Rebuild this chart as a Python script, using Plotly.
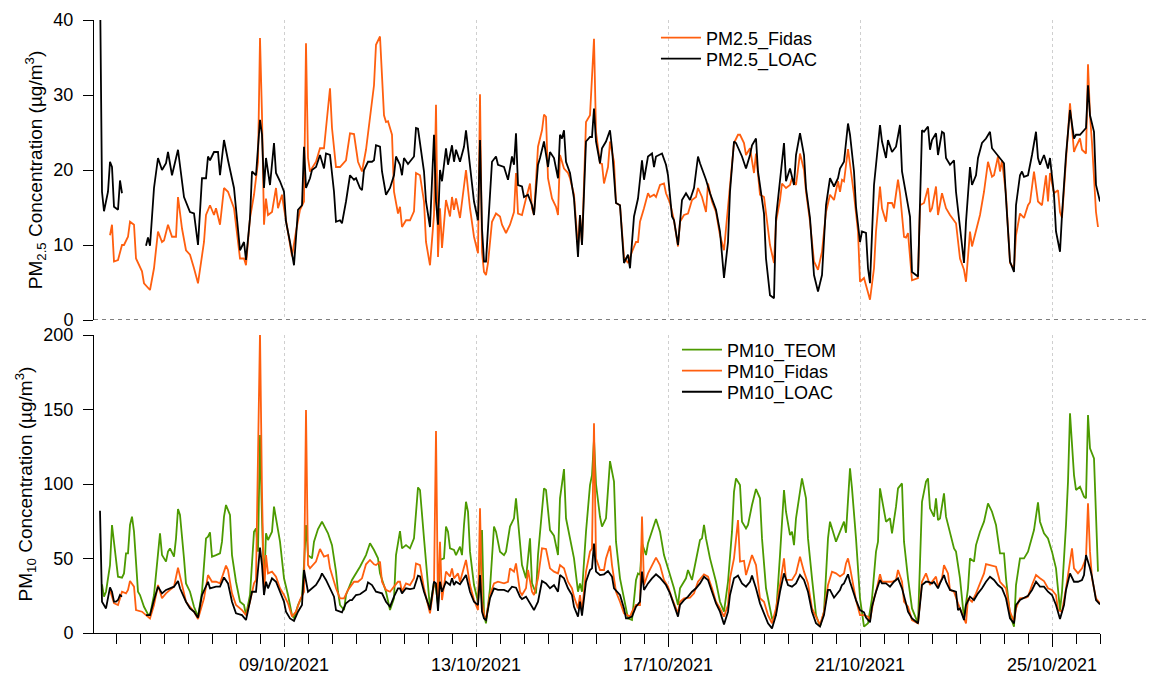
import pandas as pd
import plotly.graph_objects as go

BASE = pd.Timestamp("2021-10-05 00:00")

# (hour offset from 05/10/2021 00:00, value)
pm25_fidas = [(9,11.3),(10,12.7),(11,7.8),(13,8),(15,10),(16,10),(18,11.1),(19,13.1),(21,12.7),(22,8.2),(25,6.5),(26,4.9),(29,4),(31,6.9),(33,11.8),(35,10.4),(36,10.6),(38,12.7),(40,11.1),(42,11.1),(43,16.4),(45,12.2),(47,9.3),(49,8.7),(51,6.9),(53,4.9),(56,10.4),(57,14),(59,15.3),(61,14),(62,14.9),(64,12.7),(66,17.6),(68,17.1),(71,14.9),(74,8.2),(76,8.2),(77,7.3),(79,13.6),(81,16.7),(83,21.1),(84,37.6),(85,27.3),(86,12.7),(87,16.2),(88,14),(90,14.4),(92,17.6),(93,14.9),(95,16.7),(96,14.9),(98,11.8),(100,8.5),(102,11.8),(104,14.7),(106,15.8),(107,36.9),(108,21.6),(109,19.8),(112,21.1),(114,22.9),(116,22.9),(119,30.9),(120,25.6),(122,20.4),(124,20.4),(127,21.3),(129,24.9),(131,24.8),(133,21.1),(135,19.8),(137,22.7),(139,27.3),(141,31.3),(142,36.7),(144,37.8),(146,27.3),(147,26.4),(148,26.5),(150,24.7),(151,17.1),(153,14.2),(154,15.1),(155,12.4),(157,13.3),(159,13.3),(161,14.5),(162,19.6),(164,19.3),(166,15.8),(167,10.4),(169,7.3),(171,14),(172,28.7),(173,8.4),(174,14.9),(175,9.6),(177,16),(179,13.8),(180,16.4),(181,14.7),(182,16.2),(184,13.6),(187,20),(189,14.9),(191,11.1),(193,8.9),(194,30.1),(195,9.1),(196,6.4),(197,6),(198,7.6),(200,13.1),(202,14.2),(204,13.8),(205,12.7),(207,11.6),(209,12.7),(211,14.4),(212,19.6),(213,14.2),(215,14),(217,16.2),(219,18.2),(220,14.9),(221,14),(223,23.1),(225,25.3),(226,27.4),(227,27.1),(228,18.9),(230,16.2),(232,15.1),(233,14),(234,22),(236,20.2),(238,19.6),(239,18.9),(241,16.7),(243,9.6),(244,14),(245,10),(247,26.4),(249,27.3),(251,37.5),(252,25.1),(254,20.9),(255,20.8),(256,18.2),(258,20.4),(259,23.8),(261,21.1),(262,15.6),(264,15.3),(266,8.4),(268,7.6),(270,9.1),(272,10.4),(273,10.4),(274,13.1),(276,14.9),(278,16.9),(279,16.4),(281,16.7),(282,16.4),(284,18),(286,18.2),(287,16.9),(289,15.6),(291,13.3),(293,9.8),(294,13.1),(296,14),(298,14.2),(300,16),(302,16.4),(303,17.6),(305,16.4),(307,14.4),(308,18.2),(310,15.8),(312,14.4),(314,11.3),(316,9.3),(317,12.2),(319,18),(321,23.6),(323,24.7),(324,24.7),(326,23.6),(327,22),(329,22.9),(331,19.6),(332,22.2),(334,16.7),(336,16.4),(337,14),(339,10),(341,7.6),(342,13.1),(344,16),(345,18.2),(347,17.6),(349,18),(350,18.9),(352,18),(354,22.2),(356,20),(357,17.1),(359,13.1),(361,7.8),(363,6.7),(365,9.1),(367,14.4),(369,16.7),(371,16),(373,18.5),(374,17.1),(375,18.7),(376,18.5),(378,22.8),(381,16.7),(383,11.8),(384,5.1),(386,5.6),(387,4.7),(389,2.7),(391,6.9),(392,11.8),(394,17.8),(395,14.9),(397,13.1),(398,15.6),(400,15.6),(401,14.9),(403,18.7),(404,16.9),(406,11.1),(407,11),(408,11.6),(410,5.3),(413,5.6),(414,15.3),(416,15.6),(418,17.6),(419,14.4),(420,14.9),(422,17.8),(423,14),(425,16.9),(427,14.9),(429,14),(432,12.9),(434,8.2),(436,6.7),(437,5.1),(439,11.8),(440,9.8),(442,11.8),(444,14),(446,17.1),(448,21.1),(450,19.1),(451,19.3),(453,21.8),(454,19.8),(455,21.3),(457,16.7),(459,7.6),(461,6.9),(462,11.3),(464,14.2),(466,13.6),(468,15.3),(469,15.7),(471,19.8),(473,15.8),(475,15.3),(477,19.3),(478,15.8),(479,19.6),(481,16.9),(483,17.3),(484,14.4),(485,13.6),(487,22),(489,28.9),(491,22.4),(492,23.1),(494,24.2),(495,22.7),(497,22.2),(498,34.1),(499,27.3),(500,23.6),(502,14.4),(503,12.4)]

pm25_loac = [(4,45),(5,17.1),(6,14.5),(8,17.1),(9,21.1),(10,20.4),(11,15.1),(13,14.7),(14,18.6),(15,16.9),(21,None),(27,9.9),(28,11),(29,9.9),(31,17.6),(33,21.6),(35,20),(37,20.9),(38,22.4),(40,19.3),(43,22.7),(46,16.4),(49,14.4),(51,14.2),(53,10),(55,18.9),(57,18.9),(58,21.8),(59,21.3),(61,22.4),(63,22.4),(64,19.3),(66,24),(68,21.3),(71,17.6),(74,9.3),(76,10.4),(77,8),(79,13.6),(80,19.8),(82,19.3),(84,26.7),(85,24.7),(86,17.6),(87,21.6),(89,18),(91,23.6),(92,19.6),(94,18.5),(96,17.1),(97,13.1),(99,10.4),(101,7.3),(103,14.7),(105,15.3),(106,23.1),(107,17.6),(109,18.9),(110,20),(112,20.4),(114,22),(116,20.2),(117,22.2),(119,22),(121,17.1),(122,13.1),(124,13.3),(125,12.9),(127,15.8),(129,19.3),(131,18.7),(132,18.9),(134,17.6),(135,17.3),(136,20),(138,21.1),(140,21.1),(141,21.3),(142,23.3),(144,23.1),(145,19.8),(147,16.7),(149,17.6),(151,19.3),(152,21.8),(154,20.7),(155,19.3),(156,21.6),(158,20.8),(161,21.8),(162,25.6),(163,25.5),(166,19.8),(167,15.8),(169,12.4),(171,24.7),(172,15.8),(173,12.7),(174,20),(175,18.5),(177,22.9),(178,20.7),(180,23.3),(181,21.1),(182,22.7),(184,21.1),(186,23.1),(187,25.3),(189,20.2),(191,15.8),(193,13.3),(194,24),(195,12.2),(196,7.8),(197,7.8),(200,21.1),(202,21.8),(203,20.7),(206,20.4),(208,18.7),(210,21.8),(211,20.7),(212,24.9),(213,18),(215,17.8),(216,16.4),(218,16.7),(220,15.3),(221,14),(223,20.7),(224,21.6),(226,23.8),(228,20.4),(229,22.4),(231,21.6),(233,18.9),(234,24.7),(235,24.2),(236,25.3),(237,21.1),(239,19.6),(241,16.2),(243,8.4),(244,14),(245,10),(247,23.8),(249,24.4),(250,24.4),(251,28.2),(252,23.8),(254,20.9),(255,22.9),(257,23.8),(259,25.3),(260,22.9),(262,15.6),(264,15.3),(266,7.6),(268,8.7),(269,6.9),(271,13.8),(273,16.2),(274,18.7),(275,21.3),(276,18.7),(278,21.8),(280,22.2),(281,20.4),(282,21.8),(285,22.2),(287,20.7),(288,19.3),(290,13.8),(291,13.3),(293,10),(294,13.6),(295,16),(297,16.9),(299,16),(301,17.6),(303,21.8),(304,20.9),(306,19.6),(307,18.7),(309,16.9),(312,14.7),(314,11.8),(316,5.6),(318,10.4),(319,17.1),(321,23.8),(322,23.6),(325,21.8),(327,20.2),(329,22),(330,23.3),(332,24.2),(333,19.8),(336,14.2),(337,8.2),(339,3.3),(341,2.9),(342,13.6),(344,18.5),(346,23.6),(347,18.5),(349,20.2),(351,18),(352,22),(354,24.9),(356,22),(357,17.6),(359,13.6),(361,6),(363,3.8),(365,6),(367,15.3),(369,18.9),(371,17.8),(373,18.9),(374,20.2),(376,21.1),(378,26.2),(379,24.7),(381,19.8),(382,15.1),(384,10.4),(385,11.8),(387,11.6),(388,6.9),(389,4.9),(391,18),(392,20.4),(394,26),(395,23.8),(397,21.6),(398,24),(400,22.4),(402,23.1),(404,26),(405,19.8),(407,16.7),(409,13.8),(410,6.4),(413,5.8),(415,25.3),(416,25.1),(418,25.8),(419,22.7),(420,24),(422,24.9),(423,22),(425,25.1),(426,24.9),(427,21.6),(429,20.7),(431,21.3),(432,17.1),(434,12.2),(436,7.6),(437,13.1),(439,20.4),(440,18),(442,19.3),(443,21.6),(445,23.6),(447,24.2),(449,25.1),(450,22.9),(452,22.2),(454,21.6),(456,20.9),(457,16.2),(459,7.8),(461,6.4),(462,15.3),(464,19.3),(465,19.8),(466,19.1),(468,19.3),(470,22),(472,25.1),(473,21.6),(474,20.7),(476,22),(478,20.2),(479,21.6),(481,16.7),(482,11.8),(484,9.1),(485,14),(487,22),(489,28),(491,24.2),(492,24.7),(494,24.7),(497,25.6),(498,31.3),(499,27.3),(501,25.1),(502,18),(504,15.8)]

pm10_teom = [(5,32.7),(6,24.4),(7,27.7),(9,45.6),(10,72.5),(12,50.1),(13,37.8),(15,37.1),(16,40),(17,53.5),(18,53.5),(19,72.5),(20,78.1),(21,68),(22,47.9),(23,27.7),(24,25.5),(26,17.6),(28,12.5),(29,12),(31,25.5),(33,52.3),(34,66.9),(35,52.3),(37,47.9),(38,54.6),(39,56.8),(41,51.2),(42,63.5),(43,83.2),(44,79.2),(46,50.1),(47,33.3),(49,27.7),(51,17.6),(53,11),(55,27.7),(57,63.5),(58,64.6),(59,67.5),(60,51.2),(62,52.3),(64,53.5),(65,61.3),(66,78.1),(67,85.9),(69,79.2),(70,52.3),(72,34.4),(74,21),(76,18.8),(77,12),(79,25.5),(81,68),(82,70.2),(83,54.6),(84,132.9),(85,77),(86,30),(87,66.9),(88,62.4),(90,68),(91,84.8),(92,77),(94,61.3),(96,36.7),(98,25.5),(100,12),(101,9.8),(103,18.8),(105,24.4),(106,45.6),(107,72.5),(108,52.3),(110,50.1),(111,61.3),(113,69.8),(115,74.7),(117,69.1),(118,66.9),(120,59),(122,41.2),(123,27.7),(124,18.8),(126,15.4),(127,25.5),(130,35.6),(132,40),(134,44.5),(137,52.3),(139,60.2),(141,55.7),(143,50.1),(144,40),(147,27.7),(149,15.4),(151,23.3),(152,52.3),(154,68.4),(155,56.8),(157,59),(159,56.8),(161,63.5),(163,97.7),(164,96),(166,63.5),(168,30),(169,16.5),(171,34.4),(172,30),(173,18.8),(174,49),(176,50.1),(177,71.4),(178,68),(179,56.8),(181,55.7),(182,52.3),(184,57.9),(185,52.3),(186,72.5),(187,88.1),(188,81.4),(189,54.6),(191,32.2),(193,21),(194,45.6),(195,69.1),(196,12),(197,6.5),(199,30),(201,71.4),(202,68),(204,54.6),(206,52.3),(207,54.6),(209,71.4),(211,77),(212,90.4),(214,63.5),(215,45.6),(217,36.7),(219,63.5),(220,33.3),(222,26.6),(223,52.3),(225,85.9),(226,97.1),(227,96),(229,69.1),(231,65.3),(233,52.3),(234,90.4),(236,110),(237,77),(239,63.5),(241,50.1),(243,27.7),(244,33.3),(245,27.7),(247,68),(249,99.3),(250,106),(251,130),(252,100),(254,78),(255,71.4),(257,77),(258,94.8),(259,115.4),(261,101.6),(262,61.3),(264,36.7),(267,15.4),(268,9.8),(270,8.7),(272,35.6),(273,40),(274,39),(275,60.2),(277,52.3),(278,60.2),(280,68),(282,76.5),(284,68),(286,52.3),(288,43.4),(291,30),(293,18.8),(294,30),(297,36.7),(298,42.3),(300,35.6),(302,47.9),(304,62.4),(305,63.5),(306,72.5),(307,63.5),(309,50.1),(312,34.4),(314,21),(316,14.3),(318,34.4),(320,68),(321,94.8),(322,103.8),(324,99.3),(325,74.7),(327,70.2),(328,72.5),(330,85.9),(332,96.6),(334,90.4),(335,63.5),(337,30),(340,9.8),(342,12),(344,52.3),(346,96),(347,81.4),(349,65.7),(350,68),(351,59),(352,77),(354,93.7),(355,103.8),(357,90.4),(358,63.5),(360,36.7),(362,12),(364,4.3),(366,14.3),(368,63.5),(369,74.7),(371,65.7),(372,61.3),(374,68),(376,74.7),(377,67.3),(379,110.5),(380,97.1),(382,63.5),(384,23.3),(386,4.3),(388,6.5),(390,23.3),(392,54.6),(393,61.3),(394,97.1),(396,81.4),(397,74.7),(399,77),(400,66.9),(402,84.8),(403,97.1),(405,100.4),(406,61.3),(408,36.7),(410,16.5),(413,6.5),(415,88.1),(417,101.6),(418,103.8),(419,83.7),(421,78.1),(422,90.4),(423,75.8),(424,76.9),(426,93.7),(427,78.1),(429,68),(431,56.8),(432,54.6),(434,36.7),(436,9.8),(438,30),(439,50.1),(441,47.9),(442,59),(444,68),(446,74.7),(448,87),(450,81.4),(452,72.5),(454,53.5),(456,53.5),(457,36.7),(459,12),(461,4.3),(462,32.2),(464,50.1),(466,50.1),(468,54.6),(469,59),(471,69.1),(473,87.7),(474,74.7),(476,66.9),(478,63.5),(480,54.6),(482,43.4),(484,15.4),(485,27.7),(487,72.5),(488,101.6),(489,147.4),(491,106),(492,96),(493,96.9),(494,98.2),(496,91.5),(497,90.4),(498,146.3),(499,123.9),(501,117.2),(503,41.2)]

pm10_fidas = [(9,28.9),(11,20),(13,18.8),(15,27.7),(17,26.6),(18,28.9),(19,34.9),(21,31.1),(22,15.4),(25,14.3),(27,12),(29,9.8),(31,18.8),(33,32.2),(35,23.3),(37,26.6),(39,28.9),(41,31.1),(43,43.8),(45,33.3),(47,21),(49,17.6),(51,14.3),(53,9.4),(56,23.3),(58,38.9),(60,34.4),(62,34.4),(64,33.3),(67,45.2),(68,42.3),(70,26.6),(72,18.8),(75,15.4),(77,12),(79,21),(81,33.3),(82,35.6),(84,202),(85,94.8),(86,25.5),(87,52.3),(88,40),(90,41.2),(92,37.8),(94,30),(96,25.5),(98,19.9),(100,11),(102,14.3),(104,22.1),(106,27.7),(107,149.7),(108,45.6),(109,43.4),(112,47.9),(114,56.4),(116,51.2),(118,52.3),(119,43.4),(122,30),(124,23.3),(126,23.3),(128,28.9),(131,34.4),(133,34.4),(135,36.7),(137,46.1),(139,49),(141,46.1),(142,45.6),(144,47.9),(145,34.4),(147,28.9),(149,27.7),(151,31.1),(153,34.4),(154,34.4),(155,27.7),(157,33.3),(159,32.2),(161,36.7),(162,46.7),(164,45.6),(166,30),(168,18.8),(169,13.2),(171,32.2),(172,135.6),(173,16.5),(174,61.3),(175,22.1),(177,41.2),(179,37.9),(180,43.4),(181,36.7),(183,40),(184,34.4),(186,43.4),(187,49),(189,32.2),(191,22.1),(193,15.4),(194,83.7),(195,21),(196,12),(197,9.8),(199,25.5),(201,33.3),(203,34.4),(206,33.3),(208,34.4),(209,43.4),(211,41.2),(212,46.7),(214,27.7),(215,25.5),(217,30),(218,42.3),(220,27.7),(221,25.5),(223,36.7),(225,56.8),(227,56.4),(229,43.4),(231,41.2),(233,40),(234,45.6),(236,43.4),(238,34.4),(240,30),(241,24.4),(243,16.5),(244,25.5),(245,14.3),(247,41.2),(249,54.6),(250,56.8),(251,140.7),(252,50),(254,42.3),(256,42.3),(257,50.1),(259,58.6),(260,45.6),(262,27.7),(264,21),(266,13.2),(269,11),(270,14.3),(272,18.8),(274,18.8),(275,78.1),(276,32.2),(278,40),(280,45.6),(282,50.6),(284,45.6),(286,35.6),(288,31.1),(290,23.3),(293,13.2),(294,21),(296,23.3),(299,23.7),(301,26.6),(303,34.4),(306,39.4),(308,37.8),(310,30),(312,21),(314,16.5),(316,11),(318,18.8),(319,36.7),(321,50.1),(323,75.8),(324,47.9),(326,48.5),(327,38.9),(329,47.9),(330,52.3),(332,45.6),(334,23.3),(336,21),(338,12),(340,6.5),(342,16.5),(344,32.2),(346,50.1),(347,35.6),(350,35.6),(352,40),(354,51.2),(356,41.2),(358,33.3),(360,16.5),(362,11),(364,5.4),(366,14.3),(368,32.2),(370,41.2),(372,40),(374,38),(376,40),(377,46.7),(378,50.1),(379,44),(382,22.1),(384,12),(386,12),(388,11),(389,8.7),(391,23.3),(392,27.7),(394,39.4),(395,34.4),(397,34.4),(400,34.4),(402,35.6),(403,42.3),(405,34.4),(406,21),(408,17.7),(410,8.7),(413,6.5),(415,34.4),(417,40),(419,32.2),(420,34.4),(422,37.8),(423,31.1),(425,36.7),(426,45.6),(428,40),(429,28.9),(431,27.7),(433,19.9),(435,13.2),(437,6.5),(438,23.3),(440,21),(442,26.6),(444,33.3),(446,40),(447,46.3),(449,45.6),(452,44.5),(454,34.4),(456,31.1),(457,30),(459,14.3),(461,7.6),(462,16.5),(464,23.3),(467,23.7),(468,24.4),(470,32.2),(472,38.9),(474,36.7),(476,34.9),(478,30),(480,28.9),(482,25.5),(483,15.4),(485,14.3),(487,30),(490,56.8),(491,43.4),(493,40),(495,43.4),(497,50.1),(498,87),(499,54.6),(500,36.7),(502,23.3),(504,19.9)]

pm10_loac = [(4,82),(5,21),(7,16.5),(8,23.3),(9,30.6),(10,27.7),(11,21),(12,21),(13,22.1),(14,25.5),(15,24.4),(21,None),(27,12),(29,12),(31,22.1),(33,31.1),(35,26.6),(37,28.9),(39,30),(41,31.1),(43,34.9),(44,30),(47,21),(49,16.5),(51,14.3),(53,10.3),(55,25.5),(58,34.4),(59,30),(62,31.1),(64,31.1),(66,37.3),(68,33.3),(70,21),(72,13.2),(75,12),(77,8.7),(79,21),(80,27.7),(82,27.7),(84,57.3),(85,45.6),(86,25.5),(87,34.4),(88,30),(90,36.7),(92,34.4),(94,27.7),(96,21),(97,14.3),(99,9.8),(101,8.1),(103,14.3),(105,18.8),(106,42.3),(108,27.7),(109,28.9),(112,32.2),(114,36.7),(115,40),(117,35.6),(119,30),(121,24.4),(122,15.4),(124,14.3),(125,13.9),(127,20),(129,22.1),(130,22.1),(132,25.5),(134,26),(137,28.9),(138,34),(140,32.2),(142,27.7),(145,26.6),(147,21),(149,17.7),(151,24.4),(153,30),(154,30),(155,26.6),(157,30),(159,29.5),(161,30),(163,38.5),(164,38),(166,27.7),(168,19.9),(169,15.4),(171,34.4),(172,33.3),(173,14.8),(174,34.4),(175,27.7),(177,34.4),(179,32.2),(180,36.7),(181,32.2),(182,34.4),(184,32.7),(186,37.1),(187,38.9),(189,27.7),(191,21),(193,18.8),(194,38.9),(195,14.3),(196,9.8),(197,8.7),(199,23.3),(201,30),(203,29),(206,28.9),(208,27.7),(210,31.1),(212,30.4),(214,24.4),(215,22.8),(217,24.4),(219,19.9),(221,15.4),(223,21),(225,34.9),(227,33.3),(229,30),(231,32.2),(233,27.7),(234,38.9),(236,36.7),(238,30),(240,25.5),(241,17.6),(243,11),(244,21),(245,11.6),(247,34.4),(249,42.3),(250,43.4),(251,60),(252,41.2),(254,38.9),(256,39.4),(258,41.6),(260,37.8),(261,30),(264,25.5),(266,16.5),(267,9.8),(268,9.8),(270,11),(272,17.7),(274,21),(275,41.2),(276,28.9),(278,33.3),(280,36.7),(282,39.4),(284,37.1),(287,32.2),(289,26.6),(291,18.8),(293,11),(294,18.8),(296,22.1),(298,24.4),(300,27.7),(302,30),(304,33.3),(306,37.8),(308,35.6),(310,27.7),(312,19.9),(314,14.3),(316,5.8),(318,14.3),(319,25.5),(321,36.7),(323,38.5),(325,33.3),(327,31.1),(329,34.4),(330,38.5),(332,30),(334,19.9),(336,13.2),(338,6.5),(340,3.1),(342,12),(344,27.7),(346,40),(348,32.2),(350,31.1),(352,33.3),(354,38.9),(356,35.6),(358,27.7),(360,14.3),(362,6.5),(364,4.3),(366,12),(368,28.9),(369,28.9),(371,23.7),(373,27.7),(374,28.9),(375,32.2),(376,33.3),(378,39.4),(379,34.4),(382,22.1),(384,15.4),(386,13.9),(387,10.3),(389,7.2),(390,17.7),(392,27.7),(394,35.6),(395,33.3),(397,33.3),(399,31.1),(401,34.4),(403,36.7),(405,30),(407,19.9),(408,14.3),(410,9.8),(413,6.5),(415,32.2),(417,34.4),(418,34.4),(420,33.3),(421,34.4),(423,30),(424,33.3),(426,38.9),(427,34.4),(429,28.9),(432,27.7),(433,15.4),(434,16.5),(436,8.7),(437,18.8),(439,24.4),(441,22.1),(443,26.6),(445,30),(447,34.4),(449,37.8),(451,35.6),(453,32.2),(455,30),(457,23.3),(459,9.8),(461,6.5),(462,18.8),(464,22.1),(467,24.4),(468,25),(470,28.9),(472,34.4),(474,31.1),(476,31.1),(478,27.7),(480,25.5),(482,18.8),(484,9.4),(486,18.8),(487,28.9),(489,40),(491,34.4),(493,34.4),(495,35.6),(496,38.9),(497,52.3),(499,43.4),(500,37.8),(502,22.1),(504,19.2)]

x_start = "2021-10-05 01:00"
x_end = "2021-10-26 00:00"
major_tick0 = "2021-10-09"
y25_ticks = [0, 10, 20, 30, 40]
y10_ticks = [0, 50, 100, 150, 200]

ORANGE = "#FF5F0F"
GREEN = "#4C9A00"
BLACK = "#000000"
FONT = "Liberation Sans, Arial, Helvetica, sans-serif"


def xy(pairs):
    xs = [BASE + pd.Timedelta(hours=h) for h, _ in pairs]
    ys = [v for _, v in pairs]
    return xs, ys


fig = go.Figure()

top_series = [(pm25_fidas, "PM2.5_Fidas", ORANGE, "legend"),
              (pm25_loac, "PM2.5_LOAC", BLACK, "legend2")]
bottom_series = [(pm10_teom, "PM10_TEOM", GREEN, "legend3"),
                 (pm10_fidas, "PM10_Fidas", ORANGE, "legend4"),
                 (pm10_loac, "PM10_LOAC", BLACK, "legend5")]

for pairs, name, color, lg in top_series:
    xs, ys = xy(pairs)
    fig.add_trace(go.Scatter(x=xs, y=ys, mode="lines", name=name, showlegend=True,
                             line=dict(color=color, width=1.8),
                             xaxis="x2", yaxis="y2", legend=lg))

for pairs, name, color, lg in bottom_series:
    xs, ys = xy(pairs)
    fig.add_trace(go.Scatter(x=xs, y=ys, mode="lines", name=name, showlegend=True,
                             line=dict(color=color, width=1.8),
                             xaxis="x", yaxis="y", legend=lg))

DAY = 86400000
grid = dict(showgrid=True, gridcolor="#CFCFCF", griddash="dot", gridwidth=1)


def leg(x, y):
    return dict(x=x, y=y, xanchor="left", yanchor="middle", bgcolor="rgba(0,0,0,0)",
                font=dict(size=18), itemwidth=40, borderwidth=0, visible=True)


fig.update_layout(
    width=1150, height=677,
    showlegend=True,
    margin=dict(l=94, r=50, t=20, b=44),
    paper_bgcolor="white", plot_bgcolor="white",
    font=dict(family=FONT, size=18, color="black"),
    xaxis=dict(domain=[0, 1], anchor="y", type="date", range=[x_start, x_end],
               tick0=major_tick0, dtick=4 * DAY, tickformat="%d/%m/%Y",
               ticks="outside", ticklen=13, tickcolor="black", tickwidth=1,
               ticklabelstandoff=2, automargin=False,
               showline=True, linecolor="black", linewidth=1, zeroline=False,
               minor=dict(dtick=DAY / 2, ticks="outside", ticklen=10, tickcolor="black",
                          showgrid=False),
               tickfont=dict(size=18), **grid),
    xaxis2=dict(domain=[0, 1], anchor="y2", type="date", matches="x", automargin=False,
                tick0=major_tick0, dtick=4 * DAY, showticklabels=False, ticks="",
                showline=False, zeroline=False, **grid),
    yaxis=dict(domain=[0, 0.4861], anchor="x", range=[0, 200], tickvals=y10_ticks,
               ticks="outside", ticklen=10, tickcolor="black", ticklabelstandoff=6,
               automargin=False,
               showline=True, linecolor="black", linewidth=1, showgrid=False, zeroline=False,
               title=dict(text="PM<sub>10</sub> Concentration (µg/m<sup>3</sup>)",
                          font=dict(size=19), standoff=5)),
    yaxis2=dict(domain=[0.5106, 1], anchor="x2", range=[0, 40], tickvals=y25_ticks,
                ticks="outside", ticklen=10, tickcolor="black", ticklabelstandoff=6,
                automargin=False,
                showline=True, linecolor="black", linewidth=1, showgrid=False, zeroline=False,
                title=dict(text="PM<sub>2.5</sub> Concentration (µg/m<sup>3</sup>)",
                           font=dict(size=19), standoff=5)),
    legend=leg(0.5586, 0.9706),
    legend2=leg(0.5586, 0.9364),
    legend3=leg(0.5795, 0.4617),
    legend4=leg(0.5795, 0.4274),
    legend5=leg(0.5795, 0.3931),
    shapes=[dict(type="line", xref="paper", yref="y2", x0=0, x1=1.0497, y0=0, y1=0,
                 line=dict(color="black", width=1, dash="4px,4px"), layer="above")],
)

fig.write_html("out.html")
